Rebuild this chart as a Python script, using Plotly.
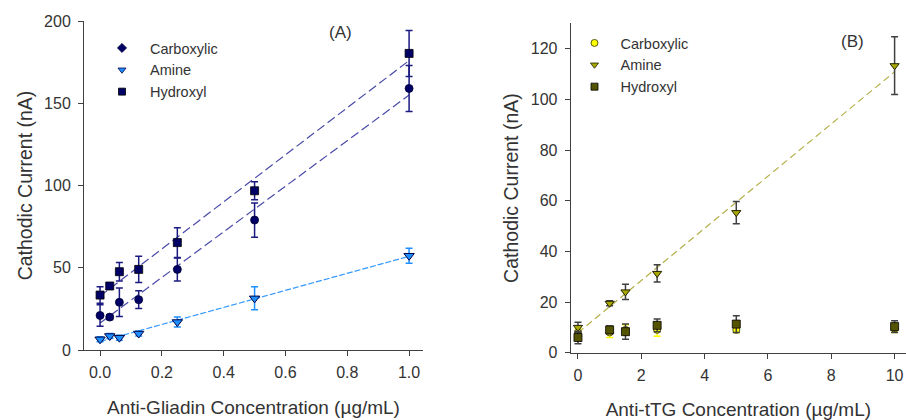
import numpy as np
import plotly.graph_objects as go

# ---------------- Panel A data (Anti-Gliadin) ----------------
conc_a = [0.0, 0.03125, 0.0625, 0.125, 0.25, 0.5, 1.0]
carb_a = [21, 20, 29, 30.6, 49, 79, 159]
carb_a_err = [6.5, 1.5, 8.7, 5.4, 7, 10.4, 14]
amine_a = [6.5, 8.5, 7.5, 10, 17, 31.4, 57.3]
amine_a_err = [1.5, 1.5, 1.5, 1.5, 3, 7, 4.5]
hydr_a = [33.4, 38.9, 47.6, 49, 65.3, 96.8, 180.3]
hydr_a_err = [5, 2, 5.6, 8, 9, 5.5, 14]

# ---------------- Panel B data (Anti-tTG) ----------------
conc_b = [0, 1, 1.5, 2.5, 5, 10]
carb_b = [8, 8, 9, 9, 9, 9.5]
carb_b_err = [1.5, 2, 2, 2.5, 1, 1.5]
amine_b = [10, 19.5, 24, 31.3, 55.3, 113.3]
amine_b_err = [2, 1, 3, 3.4, 4.4, 11.4]
hydr_b = [6, 9, 8.3, 10.8, 11.3, 10.3]
hydr_b_err = [2.5, 1.5, 3, 2.5, 3.3, 2.3]

ticks_a_x = [0.0, 0.2, 0.4, 0.6, 0.8, 1.0]
ticks_a_y = [0, 50, 100, 150, 200]
ticks_b_x = [0, 2, 4, 6, 8, 10]
ticks_b_y = [0, 20, 40, 60, 80, 100, 120]

NAVY = "#000066"
NAVY_BAR = "#1a1a80"
NAVY_LINE = "#4a4aa8"
BLUE = "#1e8fff"
BLUE_LINE = "#3399ff"
YEL = "#ffff00"
OLIVE = "#a8a800"
DOLIVE = "#545400"
KHAKI = "#b5b04a"
GRAY = "#404040"
TXT = "#333333"
FONT = "Liberation Sans, Arial, sans-serif"


def fit_line(x, y):
    m, b = np.polyfit(np.array(x, float), np.array(y, float), 1)
    xs = np.array([min(x), max(x)], float)
    return xs, m * xs + b


fig = go.Figure()

# ---- Panel A fit lines ----
for ys, col, dash in [(carb_a, NAVY_LINE, "9px,4px"), (hydr_a, NAVY_LINE, "9px,4px"),
                      (amine_a, BLUE_LINE, "6px,2px")]:
    fx, fy = fit_line(conc_a, ys)
    fig.add_trace(go.Scatter(x=fx, y=fy, mode="lines", showlegend=False, hoverinfo="skip",
                             line=dict(color=col, width=1.2, dash=dash), xaxis="x", yaxis="y"))

# ---- Panel A data ----
fig.add_trace(go.Scatter(x=conc_a, y=carb_a, mode="markers", showlegend=False,
                         error_y=dict(type="data", array=carb_a_err, color=NAVY_BAR, thickness=1.5, width=3.5),
                         marker=dict(symbol="circle", size=8, color=NAVY, line=dict(color="#000033", width=0.8)),
                         xaxis="x", yaxis="y"))
fig.add_trace(go.Scatter(x=conc_a, y=amine_a, mode="markers", showlegend=False,
                         error_y=dict(type="data", array=amine_a_err, color=BLUE, thickness=1.5, width=3.5),
                         marker=dict(symbol="triangle-down", size=9, color=BLUE, line=dict(color="#000044", width=1)),
                         xaxis="x", yaxis="y"))
fig.add_trace(go.Scatter(x=conc_a, y=hydr_a, mode="markers", showlegend=False,
                         error_y=dict(type="data", array=hydr_a_err, color=NAVY_BAR, thickness=1.5, width=3.5),
                         marker=dict(symbol="square", size=8, color=NAVY, line=dict(color="#000000", width=0.8)),
                         xaxis="x", yaxis="y"))

# ---- Panel A legend entries ----
for name, sym, col, lc in [("Carboxylic", "diamond", NAVY, "#000033"),
                           ("Amine", "triangle-down", BLUE, "#000044"),
                           ("Hydroxyl", "square", NAVY, "#000000")]:
    fig.add_trace(go.Scatter(x=[None], y=[None], mode="markers", name=name, legend="legend",
                             marker=dict(symbol=sym, size=7, color=col, line=dict(color=lc, width=0.8)),
                             xaxis="x", yaxis="y"))

# ---- Panel B fit line ----
fx, fy = fit_line(conc_b, amine_b)
fig.add_trace(go.Scatter(x=fx, y=fy, mode="lines", showlegend=False, hoverinfo="skip",
                         line=dict(color=KHAKI, width=1.2, dash="7px,4px"), xaxis="x2", yaxis="y2"))

# ---- Panel B data ----
fig.add_trace(go.Scatter(x=conc_b, y=carb_b, mode="markers", showlegend=False,
                         error_y=dict(type="data", array=carb_b_err, color=YEL, thickness=1.5, width=3.5),
                         marker=dict(symbol="circle", size=7, color=YEL, line=dict(color="#333300", width=0.8)),
                         xaxis="x2", yaxis="y2"))
fig.add_trace(go.Scatter(x=conc_b, y=amine_b, mode="markers", showlegend=False,
                         error_y=dict(type="data", array=amine_b_err, color=GRAY, thickness=1.5, width=3.5),
                         marker=dict(symbol="triangle-down", size=8, color=OLIVE, line=dict(color="#222200", width=1)),
                         xaxis="x2", yaxis="y2"))
fig.add_trace(go.Scatter(x=conc_b, y=hydr_b, mode="markers", showlegend=False,
                         error_y=dict(type="data", array=hydr_b_err, color=GRAY, thickness=1.5, width=3.5),
                         marker=dict(symbol="square", size=8, color=DOLIVE, line=dict(color="#000000", width=0.8)),
                         xaxis="x2", yaxis="y2"))

# ---- Panel B legend entries ----
for name, sym, col, lc in [("Carboxylic", "circle", YEL, "#333300"),
                           ("Amine", "triangle-down", OLIVE, "#222200"),
                           ("Hydroxyl", "square", DOLIVE, "#000000")]:
    fig.add_trace(go.Scatter(x=[None], y=[None], mode="markers", name=name, legend="legend2",
                             marker=dict(symbol=sym, size=7, color=col, line=dict(color=lc, width=0.8)),
                             xaxis="x2", yaxis="y2"))

axis_common = dict(showline=True, linecolor=GRAY, linewidth=1, ticks="outside", ticklen=5,
                   tickcolor=GRAY, tickwidth=1, showgrid=False, zeroline=False,
                   tickfont=dict(family=FONT, size=16, color=TXT), automargin=False)

W, H = 906, 420
XT = dict(family=FONT, size=19, color=TXT)
YT = dict(family=FONT, size=19.5, color=TXT)
LEG = dict(family=FONT, size=14.5, color=TXT)
fig.update_layout(
    width=W, height=H, margin=dict(l=0, r=0, t=0, b=0),
    paper_bgcolor="white", plot_bgcolor="white",
    font=dict(family=FONT, color=TXT),
    xaxis=dict(axis_common, domain=[84 / W, 423 / W], range=[-0.052, 1.045],
               tickvals=ticks_a_x, ticktext=[f"{v:.1f}" for v in ticks_a_x], anchor="y",
               ticklabelstandoff=3,
               title=dict(text="Anti-Gliadin Concentration (µg/mL)", standoff=20, font=XT)),
    yaxis=dict(axis_common, domain=[(H - 350) / H, (H - 21) / H], range=[0, 200],
               tickvals=ticks_a_y, anchor="x", ticklabelstandoff=4,
               title=dict(text="Cathodic Current (nA)", standoff=6, font=YT)),
    xaxis2=dict(axis_common, domain=[570.7 / W, 1.0], range=[-0.23, 10.36],
                tickvals=ticks_b_x, anchor="y2", ticklabelstandoff=3,
                title=dict(text="Anti-tTG Concentration (µg/mL)", standoff=19, font=XT)),
    yaxis2=dict(axis_common, domain=[(H - 352.7) / H, (H - 23.4) / H], range=[0, 130],
                tickvals=ticks_b_y, anchor="x2", ticklabelstandoff=4,
                title=dict(text="Cathodic Current (nA)", standoff=6, font=YT)),
    legend=dict(x=94 / W, y=(H - 32) / H, xanchor="left", yanchor="top", itemwidth=46,
                bgcolor="rgba(0,0,0,0)", font=LEG),
    legend2=dict(x=568.5 / W, y=(H - 27) / H, xanchor="left", yanchor="top", itemwidth=42,
                 bgcolor="rgba(0,0,0,0)", font=LEG),
    annotations=[
        dict(text="(A)", x=340.5 / W, y=(H - 32.7) / H, xref="paper", yref="paper",
             xanchor="center", yanchor="middle",
             showarrow=False, font=dict(family=FONT, size=17, color=TXT)),
        dict(text="(B)", x=852 / W, y=(H - 41.7) / H, xref="paper", yref="paper",
             xanchor="center", yanchor="middle",
             showarrow=False, font=dict(family=FONT, size=17, color=TXT)),
    ],
)

fig.write_html("out.html", config={"displayModeBar": False},
               post_script="document.body.style.margin='0px';")
